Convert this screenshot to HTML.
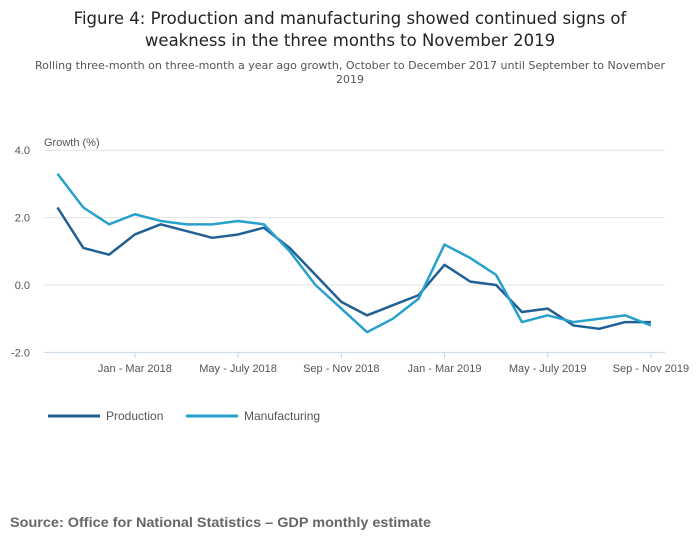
<!DOCTYPE html>
<html><head><meta charset="utf-8"><style>
body{margin:0;background:#fff;width:700px;height:549px;overflow:hidden;font-family:"Liberation Sans",sans-serif;}
</style></head><body>
<svg width="700" height="549" font-family="Liberation Sans, sans-serif">
<text x="350" y="24" text-anchor="middle" font-size="16.5" fill="#222" font-family="DejaVu Sans, sans-serif">Figure 4: Production and manufacturing showed continued signs of</text>
<text x="350" y="46" text-anchor="middle" font-size="16.5" fill="#222" font-family="DejaVu Sans, sans-serif">weakness in the three months to November 2019</text>
<text x="350" y="69" text-anchor="middle" font-size="11" fill="#555" font-family="DejaVu Sans, sans-serif" textLength="630" lengthAdjust="spacingAndGlyphs">Rolling three-month on three-month a year ago growth, October to December 2017 until September to November</text>
<text x="350" y="83" text-anchor="middle" font-size="11" fill="#555" font-family="DejaVu Sans, sans-serif">2019</text>
<text x="44" y="146" font-size="11" fill="#555">Growth (%)</text>
<g id="grid"></g><g id="xaxis"></g><g id="lines"></g>
<g>
<line x1="48" y1="416" x2="100" y2="416" stroke="#206095" stroke-width="3"/>
<text x="106" y="420" font-size="12" fill="#555">Production</text>
<line x1="186" y1="416" x2="238" y2="416" stroke="#27a0cc" stroke-width="3"/>
<text x="244" y="420" font-size="12" fill="#555">Manufacturing</text>
</g>
<text x="10" y="527" font-size="13.5" font-weight="bold" fill="#666" textLength="421" lengthAdjust="spacingAndGlyphs">Source: Office for National Statistics – GDP monthly estimate</text>
</svg>
<script>
const production=[2.3,1.1,0.9,1.5,1.8,1.6,1.4,1.5,1.7,1.1,0.3,-0.5,-0.9,-0.6,-0.3,0.6,0.1,0.0,-0.8,-0.7,-1.2,-1.3,-1.1,-1.1];
const manufacturing=[3.3,2.3,1.8,2.1,1.9,1.8,1.8,1.9,1.8,1.0,0.0,-0.7,-1.4,-1.0,-0.4,1.2,0.8,0.3,-1.1,-0.9,-1.1,-1.0,-0.9,-1.2];
const yTicks=[4,2,0,-2];
const yTickLabels=["4.0","2.0","0.0","-2.0"];
const xTickIdx=[3,7,11,15,19,23];
const xTickLabels=["Jan - Mar 2018","May - July 2018","Sep - Nov 2018","Jan - Mar 2019","May - July 2019","Sep - Nov 2019"];
const NS="http://www.w3.org/2000/svg";
const xS=i=>57.5+i*25.8;
const yS=v=>285-v*33.7;
function mk(t,a,p){const e=document.createElementNS(NS,t);for(const k in a)e.setAttribute(k,a[k]);p.appendChild(e);return e;}
const grid=document.getElementById('grid');
yTicks.forEach((v,i)=>{
 const l=mk('line',{x1:44,x2:665,y1:yS(v),y2:yS(v),stroke:v===-2?'#c8d6e5':'#e3e3e3','stroke-width':1},grid);
 
 
 const t=mk('text',{x:30,y:yS(v)+4,'text-anchor':'end','font-size':11,fill:'#555'},grid);
 t.textContent=yTickLabels[i];
 
 
});
const xa=document.getElementById('xaxis');
xTickIdx.forEach((idx,i)=>{
 const l=mk('line',{x1:xS(idx),x2:xS(idx),y1:352,y2:358,stroke:'#c8d6e5'},xa);
 
 
 const t=mk('text',{x:xS(idx),y:372,'text-anchor':'middle','font-size':11,fill:'#555'},xa);
 t.textContent=xTickLabels[i];
 
 
});
const lg=document.getElementById('lines');
[[production,'#206095','production-line'],[manufacturing,'#27a0cc','manufacturing-line']].forEach(([d,c,n])=>{
 const p=mk('polyline',{points:d.map((v,i)=>xS(i)+','+yS(v)).join(' '),fill:'none',stroke:c,'stroke-width':2.5,'stroke-linejoin':'round'},lg);
 
 
});
</script>
</body></html>
